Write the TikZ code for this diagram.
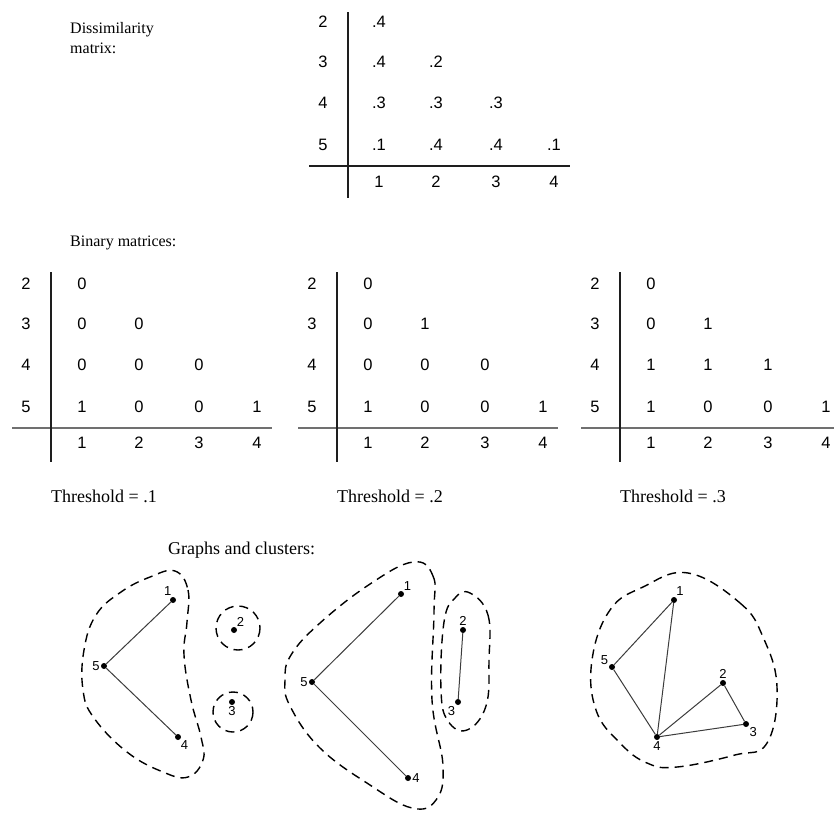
\documentclass[tikz,border=0pt]{standalone}
\usepackage{fontspec}
\setmainfont{Liberation Serif}
\setsansfont{Liberation Sans}
\usetikzlibrary{positioning}
\definecolor{mRule}{HTML}{1E1E1E}
\definecolor{mGrayRule}{HTML}{707070}
\definecolor{mEdge}{HTML}{3C3C3C}

\begin{document}
\begin{tikzpicture}[x=1pt, y=-1pt,
    caption/.style={font=\fontsize{16}{20}\selectfont, align=left, anchor=west, inner sep=0pt},
    thr/.style={font=\fontsize{18}{20}\selectfont, anchor=west, inner sep=0pt},
    num/.style={font=\sffamily\fontsize{16.5}{16.5}\selectfont, inner sep=0pt},
    vert/.style={circle, fill=black, inner sep=0pt, minimum size=6pt},
    lbl/.style={font=\sffamily\fontsize{13}{13}\selectfont, inner sep=1pt},
    link/.style={mEdge, line width=1pt},
    cluster/.style={line width=1.4pt, dash pattern=on 9pt off 6pt}]
    \useasboundingbox (0,0) rectangle (834,814);
    \def\colx{{0,31,88,148,206}}
    \def\rowy{{0,0,-144,-104,-63,-21}}

    % dissimilarity matrix
    \node[caption] (distitle) at (70,38) {Dissimilarity\\matrix:};
    \begin{scope}[shift={(348,166)}]
      \draw[mRule, line width=1.1pt] (-39,0) -- (222,0);
      \draw[mRule, line width=1.1pt] (0,-154) -- (0,32);
      \foreach \r in {2,...,5} \node[num] (d-r\r) at (-25,{\rowy[\r]}) {\r};
      \foreach \c in {1,...,4} \node[num] (d-c\c) at ({\colx[\c]},16) {\c};
      \foreach \r/\c/\v in {2/1/.4, 3/1/.4, 3/2/.2, 4/1/.3, 4/2/.3, 4/3/.3,
                            5/1/.1, 5/2/.4, 5/3/.4, 5/4/.1}
        \node[num] (d-\r-\c) at ({\colx[\c]},{\rowy[\r]}) {\v};
    \end{scope}

    % binary matrices
    \node[caption] (bintitle) at (70,243) {Binary matrices:};
    \foreach \m/\bx/\t in {a/51/.1, b/337/.2, c/620/.3} {
      \begin{scope}[shift={(\bx,428)}]
        \draw[mGrayRule, line width=1.8pt] (-39,0) -- (221,0);
        \draw[mRule, line width=1.1pt] (0,-156) -- (0,34);
        \foreach \r in {2,...,5} \node[num] (\m-r\r) at (-25,{\rowy[\r]}) {\r};
        \foreach \c in {1,...,4} \node[num] (\m-c\c) at ({\colx[\c]},15) {\c};
        \node[thr] (\m-thr) at (0,68) {Threshold = \t};
      \end{scope}
    }
    \begin{scope}[shift={(51,428)}]
      \foreach \r/\c/\v in {2/1/0, 3/1/0, 3/2/0, 4/1/0, 4/2/0, 4/3/0,
                            5/1/1, 5/2/0, 5/3/0, 5/4/1}
        \node[num] (a-\r-\c) at ({\colx[\c]},{\rowy[\r]}) {\v};
    \end{scope}
    \begin{scope}[shift={(337,428)}]
      \foreach \r/\c/\v in {2/1/0, 3/1/0, 3/2/1, 4/1/0, 4/2/0, 4/3/0,
                            5/1/1, 5/2/0, 5/3/0, 5/4/1}
        \node[num] (b-\r-\c) at ({\colx[\c]},{\rowy[\r]}) {\v};
    \end{scope}
    \begin{scope}[shift={(620,428)}]
      \foreach \r/\c/\v in {2/1/0, 3/1/0, 3/2/1, 4/1/1, 4/2/1, 4/3/1,
                            5/1/1, 5/2/0, 5/3/0, 5/4/1}
        \node[num] (c-\r-\c) at ({\colx[\c]},{\rowy[\r]}) {\v};
    \end{scope}

    % graphs and clusters
    \node[thr] (graphtitle) at (168,550) {Graphs and clusters:};

    % threshold .1
    \node[vert, label={[lbl]100:1}] (p1) at (173,600) {};
    \node[vert, label={[lbl]left:5}] (p5) at (104,666) {};
    \node[vert, label={[lbl]-60:4}] (p4) at (178,737) {};
    \node[vert, label={[lbl]60:2}] (p2) at (234,630) {};
    \node[vert, label={[lbl]below:3}] (p3) at (232,702) {};
    \draw[link] (p5) -- (p1);
    \draw[link] (p5) -- (p4);
    \draw[cluster] plot[smooth cycle, tension=0.7] coordinates {
      (175,571) (188,590) (187,622) (184,655) (191,700) (201,737) (203,760)
      (188,777) (163,772) (127,752) (94,718) (83,690) (84,650) (96,615)
      (121,592) (150,577)};
    \draw[cluster] (238,628) circle (22);
    \draw[cluster] (233,712) circle (20);

    % threshold .2
    \node[vert, label={[lbl]60:1}] (q1) at (401,594) {};
    \node[vert, label={[lbl]left:5}] (q5) at (312,682) {};
    \node[vert, label={[lbl]right:4}] (q4) at (408,778) {};
    \node[vert, label={[lbl]above:2}] (q2) at (463,630) {};
    \node[vert, label={[lbl]-120:3}] (q3) at (458,702) {};
    \draw[link] (q5) -- (q1);
    \draw[link] (q5) -- (q4);
    \draw[link] (q2) -- (q3);
    \draw[cluster] plot[smooth cycle, tension=0.7] coordinates {
      (413,562) (433,576) (434,612) (432,700) (443,766) (436,800) (412,808)
      (370,785) (320,748) (290,706) (285,680) (291,655) (320,623) (370,584)};
    \draw[cluster] plot[smooth cycle, tension=0.7] coordinates {
      (470,593) (488,615) (489,660) (486,706) (467,730) (448,721) (441,690)
      (444,622) (455,598)};

    % threshold .3
    \node[vert, label={[lbl]70:1}] (r1) at (674,600) {};
    \node[vert, label={[lbl]150:5}] (r5) at (612,667) {};
    \node[vert, label={[lbl]above:2}] (r2) at (723,683) {};
    \node[vert, label={[lbl]-40:3}] (r3) at (746,724) {};
    \node[vert, label={[lbl]below:4}] (r4) at (657,737) {};
    \draw[link] (r5) -- (r1);
    \draw[link] (r1) -- (r4);
    \draw[link] (r5) -- (r4);
    \draw[link] (r4) -- (r2);
    \draw[link] (r4) -- (r3);
    \draw[link] (r2) -- (r3);
    \draw[cluster] plot[smooth cycle, tension=0.7] coordinates {
      (688,573) (740,603) (763,637) (777,687) (767,743) (735,755) (677,767)
      (647,763) (620,743) (596,710) (592,660) (610,610) (643,587)};
  \end{tikzpicture}
\end{document}
